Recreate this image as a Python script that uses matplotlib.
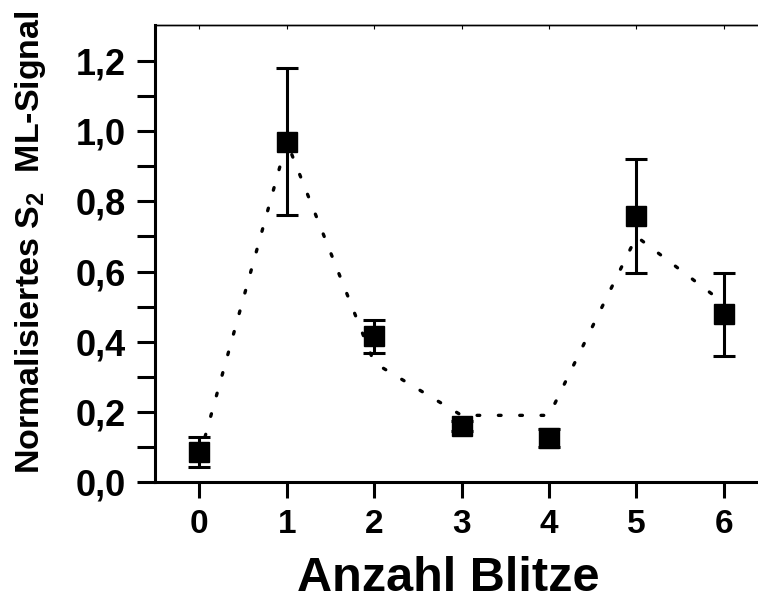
import matplotlib
matplotlib.use("Agg")
import matplotlib.pyplot as plt

plt.rcParams['font.family'] = ['Liberation Sans', 'DejaVu Sans']
plt.rcParams['font.weight'] = 'bold'
plt.rcParams['mathtext.fontset'] = 'custom'
plt.rcParams['mathtext.rm'] = 'Liberation Sans:bold'
plt.rcParams['mathtext.bf'] = 'Liberation Sans:bold'
plt.rcParams['mathtext.it'] = 'Liberation Sans:bold'
plt.rcParams['mathtext.default'] = 'bf'

# data
flashes = [0, 1, 2, 3, 4, 5, 6]
signal = [0.085, 0.970, 0.415, 0.159, 0.126, 0.759, 0.478]
signal_err = [0.043, 0.210, 0.048, 0.015, 0.025, 0.162, 0.118]
model = [0.07, 0.97, 0.34, 0.19, 0.19, 0.70, 0.51]
xticks = [0, 1, 2, 3, 4, 5, 6]
yticks = [0.0, 0.2, 0.4, 0.6, 0.8, 1.0, 1.2]
yticklabels = ['0,0', '0,2', '0,4', '0,6', '0,8', '1,0', '1,2']

fig = plt.figure(figsize=(7.58, 6.01), dpi=100)
ax = fig.add_axes([155/758, 1-482/601, (758-155)/758, (482-25)/601])

ax.plot(flashes, model, color='black', lw=2.4,
        linestyle=(0, (0.8, 5.6)), dash_capstyle='round', zorder=1)
ax.errorbar(flashes, signal, yerr=signal_err, fmt='s', color='black',
            ms=14, elinewidth=2.2, capsize=8, capthick=2.2, zorder=3)

ax.set_xlim(-0.507, 6.39)
ax.set_ylim(0, 1.303)
ax.set_xticks(xticks)
ax.set_xticklabels([str(t) for t in xticks])
ax.set_yticks(yticks)
ax.set_yticklabels(yticklabels)
ax.set_yticks([0.1, 0.3, 0.5, 0.7, 0.9, 1.1], minor=True)

ax.tick_params(axis='y', which='both', direction='out', length=13, width=2.2,
               labelsize=26, pad=8)
ax.tick_params(axis='x', which='both', direction='out', length=11.5, width=2.2,
               labelsize=24, pad=8)

ax.spines['left'].set_linewidth(2.2)
ax.spines['bottom'].set_linewidth(2.2)
ax.spines['right'].set_visible(False)
ax.spines['top'].set_linewidth(1.0)

sec = ax.secondary_xaxis('top')
sec.set_xticks(xticks)
sec.set_xticklabels([])
sec.tick_params(direction='in', length=3, width=0.8)
sec.spines['top'].set_linewidth(1.0)

ax.set_xlabel('Anzahl Blitze', fontsize=35, fontweight='bold')
ax.set_ylabel('Normalisiertes S$_2$  ML-Signal', fontsize=24.5, fontweight='bold')
ax.xaxis.set_label_coords(0.487, -0.163)
ax.yaxis.set_label_coords(-0.178, 0.525)

fig.savefig('out.png', dpi=100)
